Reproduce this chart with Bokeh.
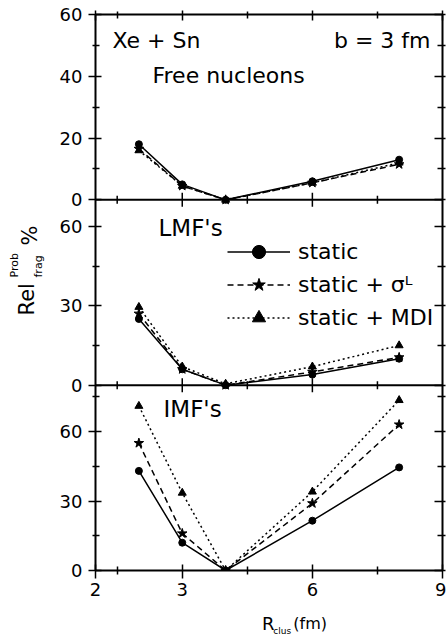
import numpy as np
from bokeh.plotting import figure
from bokeh.layouts import row, column
from bokeh.models import (Range1d, LinearAxis, FixedTicker, Span, Label, Legend,
                          LegendItem, CustomJSTickFormatter)
from bokeh.core.properties import value
from bokeh.embed import file_html
from bokeh.resources import INLINE

# ---------------- data ----------------
r_clus = [2, 3, 4, 6, 8]

free_static = [18, 5, 0, 6, 13]
free_sigma = [16.5, 4.5, 0, 5.5, 11.5]
free_mdi = [16, 4.5, 0, 5.5, 12]

lmf_static = [25, 6, 0, 4, 10]
lmf_sigma = [27, 6, 0, 5, 10.5]
lmf_mdi = [29.5, 7, 0.5, 7, 15]

imf_static = [43, 12, 0, 21.5, 44.5]
imf_sigma = [55, 16, 0, 29, 63]
imf_mdi = [71, 33.5, 0, 34, 73.5]

x_major = [1, 3, 6, 9]
x_minor = [1.5, 4.5, 7.5]
x_label_overrides = {1: "2"}

free_major = [0, 20, 40, 60]
free_minor = [10, 30, 50]
lmf_major = [0, 30, 60]
lmf_minor = [15, 45]
imf_major = [0, 30, 60]
imf_minor = [15, 45, 75]

series_names = ["static", "static + \u03c3\u1d38", "static + MDI"]

FONT = "DejaVu Sans"

# panels from bottom (k=0) to top (k=2)
panels = [
    dict(name="imf", top=80, data=(imf_static, imf_sigma, imf_mdi), major=imf_major, minor=imf_minor),
    dict(name="lmf", top=70, data=(lmf_static, lmf_sigma, lmf_mdi), major=lmf_major, minor=lmf_minor),
    dict(name="free", top=60, data=(free_static, free_sigma, free_mdi), major=free_major, minor=free_minor),
]

p = figure(width=400, height=604, x_range=Range1d(1, 9), y_range=Range1d(0, 3),
           output_backend="svg", toolbar_location=None,
           x_axis_type=None, y_axis_type=None,
           min_border_left=49, min_border_right=4, min_border_top=14, min_border_bottom=34)
p.outline_line_color = "black"
p.outline_line_width = 2
p.background_fill_color = "white"
p.border_fill_color = "white"

extra = {}
for k, pn in enumerate(panels):
    T = pn["top"]
    extra[pn["name"]] = Range1d(-k * T, (3 - k) * T)
p.extra_y_ranges = extra

styles = [
    dict(dash="solid", marker="circle", size=7),
    dict(dash="6 4", marker="star", size=10),
    dict(dash="2 3", marker="triangle", size=8),
]

legend_renderers = []
for k, pn in enumerate(panels):
    for ys, st in zip(pn["data"], styles):
        lr = p.line(r_clus, ys, y_range_name=pn["name"], line_color="black",
                    line_width=1.5, line_dash=st["dash"])
        sr = p.scatter(r_clus, ys, y_range_name=pn["name"], marker=st["marker"],
                       size=st["size"], color="black")
        if pn["name"] == "lmf":
            legend_renderers.append([lr, sr])

# inner panel boundaries with x ticks crossing them
inner_major = [t for t in x_major if 1 < t < 9]
for pn in panels[1:]:
    p.add_layout(Span(location=0, dimension="width", y_range_name=pn["name"],
                      line_color="black", line_width=2))
    p.scatter(inner_major, [0] * len(inner_major), y_range_name=pn["name"],
              marker="dash", angle=np.pi / 2, size=14, line_color="black", line_width=1.5)
    p.scatter(x_minor, [0] * len(x_minor), y_range_name=pn["name"],
              marker="dash", angle=np.pi / 2, size=8, line_color="black", line_width=1.5)

# y ticks expressed in panel-index units (panel k spans [k, k+1])
y_major_pos, y_minor_pos = [], []
for k, pn in enumerate(panels):
    y_major_pos += [k + v / pn["top"] for v in pn["major"]]
    y_minor_pos += [k + v / pn["top"] for v in pn["minor"]]
y_major_pos = sorted(set(round(v, 9) for v in y_major_pos))

ylab_fmt = CustomJSTickFormatter(args=dict(tops=[pn["top"] for pn in panels]), code="""
let k = Math.floor(tick + 1e-6);
if (k > 2) { k = 2; }
if (k < 0) { k = 0; }
return String(Math.round((tick - k) * tops[k]));
""")
empty_fmt = CustomJSTickFormatter(code="return '';")


def style_axis(ax, tin, tout, min_in, min_out):
    ax.axis_line_color = None
    ax.major_tick_in = tin
    ax.major_tick_out = tout
    ax.minor_tick_in = min_in
    ax.minor_tick_out = min_out
    ax.major_tick_line_width = 1.5
    ax.minor_tick_line_width = 1.5
    ax.major_tick_line_color = "black"
    ax.minor_tick_line_color = "black"
    ax.major_label_text_font = FONT
    ax.major_label_text_font_size = "18px"
    ax.major_label_text_color = "black"


left = LinearAxis(ticker=FixedTicker(ticks=y_major_pos, minor_ticks=y_minor_pos), formatter=ylab_fmt)
style_axis(left, 6, 7, 4, 3)
left.major_label_standoff = 6
p.add_layout(left, "left")

right = LinearAxis(ticker=FixedTicker(ticks=y_major_pos, minor_ticks=y_minor_pos), formatter=empty_fmt)
style_axis(right, 8, 3, 5, 3)
right.major_label_standoff = 0
p.add_layout(right, "right")

below = LinearAxis(ticker=FixedTicker(ticks=x_major, minor_ticks=x_minor))
style_axis(below, 6, 8, 4, 4)
below.major_label_overrides = x_label_overrides
below.major_label_standoff = 4
p.add_layout(below, "below")

above = LinearAxis(ticker=FixedTicker(ticks=x_major, minor_ticks=x_minor), formatter=empty_fmt)
style_axis(above, 6, 4, 4, 3)
above.major_label_standoff = 0
p.add_layout(above, "above")

# legend
legend = Legend(items=[LegendItem(label=n, renderers=r) for n, r in zip(series_names, legend_renderers)],
                location=(132, 236), glyph_width=63, glyph_height=33, label_height=33,
                spacing=0, padding=0, margin=0, label_standoff=8,
                border_line_color=None, background_fill_alpha=0,
                label_text_font=FONT, label_text_font_size="22px", label_text_color="black")
p.add_layout(legend)


def add_label(text, x, y, rng, size, align="left", baseline="middle"):
    p.add_layout(Label(x=x, y=y, y_range_name=rng, text=text, text_font=FONT,
                       text_font_size=size, text_align=align, text_baseline=baseline,
                       text_color="black"))


add_label("Xe + Sn", 1.392, 51.6, "free", "22px")
add_label("b = 3 fm", 8.723, 51.6, "free", "22px", align="right")
add_label("Free nucleons", 2.314, 40.2, "free", "22px")
add_label("LMF's", 2.452, 59.2, "lmf", "23px")
add_label("IMF's", 2.568, 69.9, "imf", "23px")


def blank_fig(w, h):
    f = figure(width=w, height=h, x_range=Range1d(0, w), y_range=Range1d(0, h),
               output_backend="svg", toolbar_location=None,
               x_axis_type=None, y_axis_type=None,
               min_border_left=0, min_border_right=0, min_border_top=0, min_border_bottom=0)
    f.outline_line_color = None
    f.grid.visible = False
    f.background_fill_color = "white"
    f.border_fill_color = "white"
    return f


# y-axis title: Rel^Prob_frag %
yt = blank_fig(46, 635)
ytitle_text = ["Rel", "Prob", "frag", "%"]
ytitle_x = [26, 14, 37.5, 29]
ytitle_y = [320, 358, 358, 390]
ytitle_size = ["21px", "11px", "11px", "21px"]
for t, xx, yy, sz in zip(ytitle_text, ytitle_x, ytitle_y, ytitle_size):
    yt.text(x=[xx], y=[yy], text=[t], angle=np.pi / 2, text_align="left",
            text_baseline="alphabetic", text_font=value(FONT), text_font_size=value(sz),
            text_color="black")

# x-axis title: R_clus (fm)
xt = blank_fig(400, 31)
xtitle_text = ["R", "clus", "(fm)"]
xtitle_x = [192, 205, 228]
xtitle_y = [12, 5, 12]
xtitle_size = ["18px", "9px", "16px"]
for t, xx, yy, sz in zip(xtitle_text, xtitle_x, xtitle_y, xtitle_size):
    xt.text(x=[xx], y=[yy], text=[t], text_align="left",
            text_baseline="alphabetic", text_font=value(FONT), text_font_size=value(sz),
            text_color="black")

layout = row(yt, column(p, xt))
open("out.html", "w").write(file_html(layout, INLINE))
